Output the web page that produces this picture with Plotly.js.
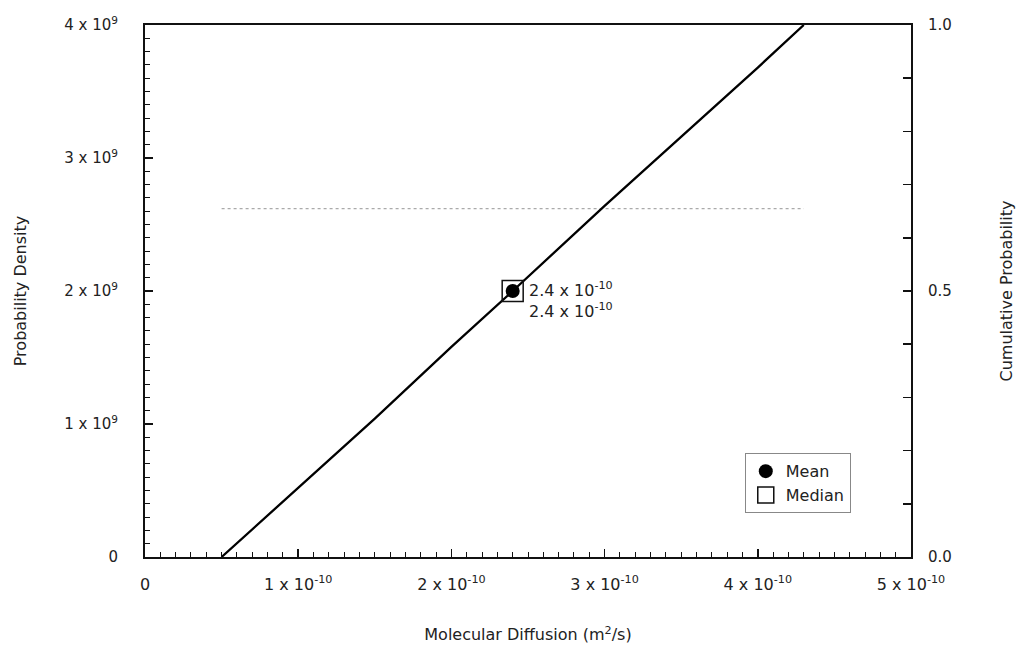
<!DOCTYPE html>
<html>
<head>
<meta charset="utf-8">
<script src="https://cdn.plot.ly/plotly-3.0.1.min.js"></script>
<style>html,body{margin:0;padding:0;background:#fff;}#chart{width:1019px;height:650px;}</style>
</head>
<body>
<div id="chart"></div>
<script>
// Cumulative probability curve
var cdfX = [0.5e-10, 1.0e-10, 1.5e-10, 2.0e-10, 2.4e-10, 3.0e-10, 3.5e-10, 4.0e-10, 4.3e-10];
var cdfY = [0.0, 0.13, 0.26, 0.395, 0.5, 0.66, 0.79, 0.92, 1.0];
// Probability density (uniform, dotted line)
var pdfX = [0.5e-10, 4.3e-10];
var pdfY = [2.62e9, 2.62e9];
// Mean and median
var meanX = [2.4e-10], meanY = [0.5];
var medianX = [2.4e-10], medianY = [0.5];
var statLabels = ["2.4 x 10<sup>-10</sup>", "2.4 x 10<sup>-10</sup>"];
// Tick labels
var xTickVals = [0, 1e-10, 2e-10, 3e-10, 4e-10, 5e-10];
var xTickText = ["0", "1 x 10<sup>-10</sup>", "2 x 10<sup>-10</sup>", "3 x 10<sup>-10</sup>", "4 x 10<sup>-10</sup>", "5 x 10<sup>-10</sup>"];
var yTickVals = [0, 1e9, 2e9, 3e9, 4e9];
var yTickText = ["0", "1 x 10<sup>9</sup>", "2 x 10<sup>9</sup>", "3 x 10<sup>9</sup>", "4 x 10<sup>9</sup>"];
var y2TickVals = [0, 0.5, 1.0];
var y2TickText = ["0.0", "0.5", "1.0"];

var ink = "#222";
var fam = "DejaVu Sans, Liberation Sans, Arial, sans-serif";
var traces = [
  {x: pdfX, y: pdfY, type: "scatter", mode: "lines", yaxis: "y",
   line: {color: "#aaa", width: 1.2, dash: "dot"}, showlegend: false, hoverinfo: "skip"},
  {x: cdfX, y: cdfY, type: "scatter", mode: "lines", yaxis: "y2",
   line: {color: "#000", width: 2.3}, showlegend: false},
  {x: medianX, y: medianY, type: "scatter", mode: "markers", yaxis: "y2", name: "Median",
   marker: {symbol: "square-open", size: 21, color: "#111", line: {width: 1.5, color: "#111"}}},
  {x: meanX, y: meanY, type: "scatter", mode: "markers", yaxis: "y2", name: "Mean",
   marker: {symbol: "circle", size: 14, color: "#000"}}
];

var layout = {
  width: 1019, height: 650,
  margin: {l: 145, r: 108, t: 25, b: 93},
  paper_bgcolor: "#fff", plot_bgcolor: "#fff",
  font: {family: fam, size: 15, color: ink},
  showlegend: true,
  legend: {x: 0.783, y: 0.195, xanchor: "left", yanchor: "top", traceorder: "reversed",
           bordercolor: "#888", borderwidth: 1, bgcolor: "rgba(255,255,255,0)",
           font: {family: fam, size: 16, color: ink}, itemwidth: 30},
  xaxis: {
    range: [0, 5e-10], tickmode: "array", tickvals: xTickVals, ticktext: xTickText,
    showgrid: false, zeroline: false, showline: true, mirror: true, linecolor: "#111", linewidth: 2,
    ticks: "inside", ticklen: 8, tickwidth: 1.5, tickcolor: "#111", ticklabelstandoff: 12,
    tickfont: {family: fam, size: 16, color: ink},
    minor: {dtick: 1e-11, tick0: 0, ticks: "inside", ticklen: 5, tickwidth: 1, tickcolor: "#111", showgrid: false},
    title: {text: "Molecular Diffusion (m<sup>2</sup>/s)", standoff: 36, font: {family: fam, size: 16, color: ink}}
  },
  yaxis: {
    range: [0, 4e9], tickmode: "array", tickvals: yTickVals, ticktext: yTickText,
    showgrid: false, zeroline: false, showline: true, linecolor: "#111", linewidth: 2,
    ticks: "inside", ticklen: 8, tickwidth: 1.5, tickcolor: "#111", ticklabelstandoff: 22,
    tickfont: {family: fam, size: 15, color: ink},
    minor: {dtick: 1e8, tick0: 0, ticks: "inside", ticklen: 5, tickwidth: 1, tickcolor: "#111", showgrid: false},
    title: {text: "Probability Density", standoff: 34, font: {family: fam, size: 16, color: ink}}
  },
  yaxis2: {
    overlaying: "y", side: "right", range: [0, 1], tickmode: "array", tickvals: y2TickVals, ticktext: y2TickText,
    showgrid: false, zeroline: false, showline: true, linecolor: "#111", linewidth: 2,
    ticks: "inside", ticklen: 8, tickwidth: 1.5, tickcolor: "#111", ticklabelstandoff: 12,
    tickfont: {family: fam, size: 15, color: ink},
    minor: {dtick: 0.1, tick0: 0, ticks: "inside", ticklen: 8, tickwidth: 1.5, tickcolor: "#111", showgrid: false},
    title: {text: "Cumulative Probability", standoff: 50, font: {family: fam, size: 16, color: ink}}
  },
  annotations: [
    {x: meanX[0], y: meanY[0], xref: "x", yref: "y2", text: statLabels[0] + "<br>" + statLabels[1],
     showarrow: false, xanchor: "left", yanchor: "middle", xshift: 14, yshift: -9, align: "left",
     font: {family: fam, size: 16, color: ink}}
  ]
};

Plotly.newPlot("chart", traces, layout, {displayModeBar: false, staticPlot: true});
</script>
</body>
</html>
